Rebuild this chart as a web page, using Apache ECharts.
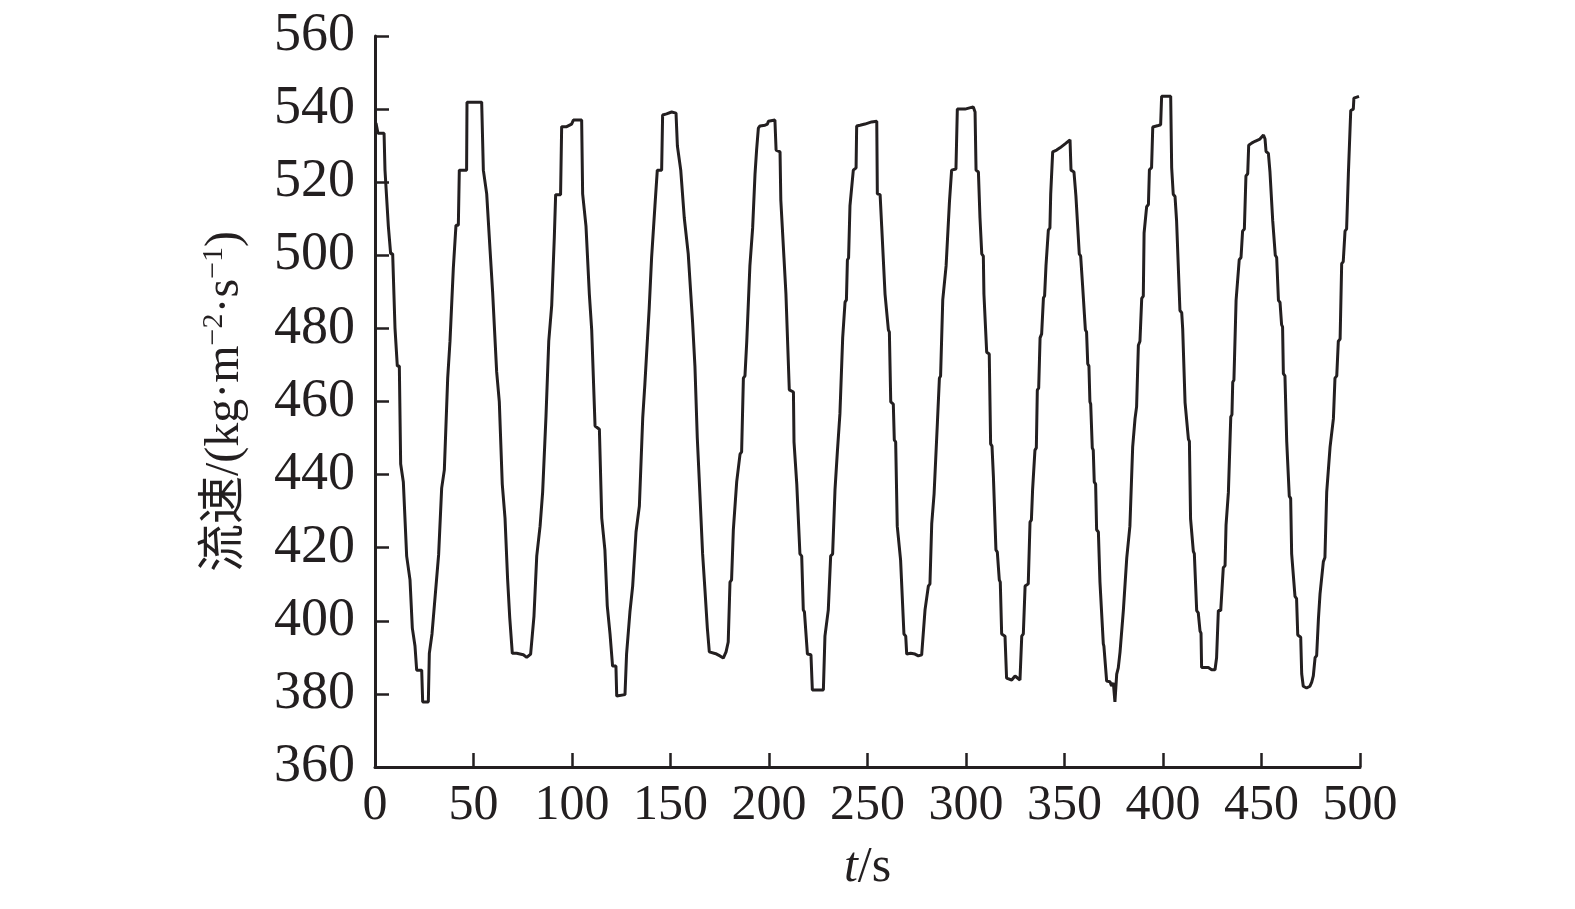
<!DOCTYPE html>
<html>
<head>
<meta charset="utf-8">
<script src="https://cdn.jsdelivr.net/npm/echarts@6/dist/echarts.min.js"></script>
<style>
html,body{margin:0;padding:0;background:#fff;}
#chart{width:1575px;height:909px;}
</style>
</head>
<body>
<div id="chart"></div>
<script>
// x-axis ticks and y-axis ticks
var xTicks = [0, 50, 100, 150, 200, 250, 300, 350, 400, 450, 500];
var yTicks = [360, 380, 400, 420, 440, 460, 480, 500, 520, 540, 560];

// t/s (vertices of the measured trace)
var timeS = [
0.5,1.5,4.6,5.07,5.9,6.77,7.6,7.95,8.97,10.15,11.0,11.33,12.35,13.03,14.04,14.38,15.23,16.07,16.92,17.77,18.27,18.95,19.63,20.3,20.8,21.15,23.7,24.2,27.07,27.58,28.4,28.93,29.6,30.96,31.8,32.3,33.0,33.84,34.7,35.2,35.9,36.9,37.7,38.07,38.9,39.76,40.6,41.1,42.3,42.8,46.5,46.7,54.15,55.0,55.8,56.7,57.2,58.4,59.05,59.7,60.4,61.76,62.4,63.1,63.6,64.6,65.5,66.0,66.5,67.3,67.85,68.4,68.7,69.7,71.9,75.3,77.0,79.0,80.0,80.7,81.7,82.1,83.1,83.8,84.6,85.1,85.8,86.8,87.7,88.2,88.8,89.7,90.5,91.03,91.5,91.7,94.2,94.75,97.3,
99.8,100.7,102.0,104.9,105.4,106.1,107.1,107.4,108.8,109.5,110.0,110.5,111.7,113.9,115.1,115.6,116.7,117.3,117.9,118.4,119.3,119.8,120.6,122.3,122.7,126.9,127.7,128.6,129.4,129.9,130.8,131.5,132.5,133.2,134.2,134.7,135.9,136.5,137.0,137.9,139.2,139.9,140.4,140.9,142.1,143.0,143.3,145.5,146.0,148.0,150.6,152.8,153.5,155.2,156.2,157.0,157.9,159.0,159.9,161.2,162.1,162.4,162.9,163.6,164.1,164.6,165.3,166.3,167.0,167.5,168.0,168.7,169.5,169.7,173.4,175.1,176.8,178.2,179.3,180.2,181.0,181.9,182.7,183.6,184.4,185.3,186.1,187.0,187.8,188.7,189.5,190.3,191.2,191.7,192.4,192.9,193.7,194.6,
195.4,198.0,199.2,199.7,203.0,203.6,205.6,206.0,207.0,207.6,208.1,208.6,209.3,210.3,212.4,212.7,213.2,214.1,214.9,215.7,216.6,217.4,218.0,219.5,221.3,222.0,227.6,228.4,229.3,230.1,230.6,231.3,232.3,233.5,234.0,234.7,235.4,236.0,236.7,237.4,238.1,238.6,239.3,239.8,240.4,241.1,241.8,242.8,244.2,244.5,246.2,248.7,252.1,254.7,255.0,256.4,257.2,258.0,258.9,259.7,260.6,261.1,261.8,263.1,263.6,264.3,265.1,266.0,266.8,267.3,268.5,269.4,269.9,271.9,274.1,275.8,277.5,278.3,279.2,280.0,280.9,281.7,282.6,283.4,283.8,284.4,285.5,286.1,286.5,287.1,288.2,288.8,289.9,290.5,291.6,
292.7,294.9,295.6,299.5,303.7,304.6,305.1,306.3,307.1,307.6,308.0,308.8,309.1,309.6,310.5,311.8,312.5,313.2,313.9,314.4,315.2,315.9,316.9,317.4,318.1,319.8,320.6,323.2,324.9,327.4,328.3,329.1,330.0,331.6,332.5,333.2,333.8,334.5,335.0,335.7,336.2,336.9,337.6,338.4,339.3,339.9,340.6,341.3,341.8,342.6,343.0,343.7,344.0,346.0,347.7,350.3,352.8,353.3,354.8,355.8,356.5,357.5,358.2,359.2,359.9,360.6,361.2,361.8,362.4,362.9,363.3,364.1,364.6,365.1,365.8,366.3,367.2,368.0,368.5,369.7,370.0,371.4,373.1,373.9,374.8,375.6,376.5,377.3,378.2,379.0,379.9,380.7,381.6,382.4,383.2,
384.6,385.3,385.8,386.6,387.5,388.3,389.2,390.0,390.4,390.9,391.7,392.6,393.1,394.2,394.8,397.6,398.8,399.3,403.9,404.4,405.2,406.1,406.9,407.8,408.6,409.5,410.0,410.7,411.2,412.0,412.9,413.4,414.0,414.7,415.4,415.9,417.1,417.9,418.8,419.3,419.6,423.0,424.7,426.4,427.2,428.1,429.3,430.6,431.5,432.0,432.7,433.2,433.7,434.4,435.0,435.4,436.0,437.1,437.7,438.7,439.6,440.4,441.3,442.1,443.0,443.5,445.0,446.7,449.2,451.0,451.8,452.3,453.5,454.3,454.7,455.7,456.4,457.0,457.7,458.6,459.4,460.2,460.7,461.1,461.9,462.8,463.6,464.1,464.8,465.3,466.2,467.0,467.8,468.4,469.9,470.4,471.2,472.9,474.6,475.5,476.3,477.2,478.0,478.9,479.7,480.5,481.4,482.2,483.1,483.9,484.8,485.6,486.5,486.8,487.3,488.2,489.0,489.9,490.7,491.5,492.4,493.2,494.1,494.9,495.3,496.6,496.9,499.5
];

// 流速/(kg·m^-2·s^-1)
var flowRate = [
536.2,533.4,533.4,523.3,523.3,508.0,508.0,500.4,500.4,480.1,480.1,469.7,469.7,442.9,442.9,438.0,438.0,417.7,417.7,411.2,411.2,398.0,398.0,393.1,393.1,386.5,386.5,377.8,377.8,391.1,391.1,396.4,396.4,409.5,409.5,418.1,418.1,436.3,436.3,441.3,441.3,466.4,466.4,476.5,476.5,496.5,496.5,508.2,508.2,523.3,523.3,541.9,541.9,523.3,523.3,516.8,516.8,501.5,501.5,490.0,490.0,468.1,468.1,459.9,459.9,437.4,437.4,428.1,428.1,411.5,411.5,400.8,400.8,391.1,391.1,390.7,390.0,390.9,390.9,401.3,401.6,417.7,417.7,425.9,425.9,435.2,435.2,456.0,456.0,476.5,476.5,486.3,486.3,505.0,505.0,516.6,516.6,535.2,535.2,
535.9,537.0,537.0,537.0,516.8,516.8,508.0,508.0,489.4,489.4,479.6,479.6,453.3,452.4,428.1,428.1,419.4,419.4,404.1,404.1,396.4,396.4,387.6,387.6,379.4,379.8,390.9,390.9,402.4,402.4,409.5,409.5,424.3,424.3,431.4,431.4,455.5,455.5,464.8,464.8,485.6,485.6,499.3,499.3,513.5,513.5,523.3,523.3,538.4,538.7,539.2,538.9,529.9,523.3,523.3,510.2,510.2,500.4,500.4,481.8,481.8,469.7,469.7,450.0,450.0,438.5,438.5,418.3,418.3,408.4,408.4,398.0,398.0,391.5,390.9,390.4,389.8,391.5,394.2,410.6,411.2,424.9,425.4,438.0,438.5,445.6,446.2,466.4,467.0,476.3,476.8,497.1,497.6,507.5,508.0,522.2,528.8,534.8,
535.4,535.6,535.9,536.7,537.0,528.8,528.3,515.1,514.6,499.3,499.3,489.4,488.9,463.2,462.6,448.9,448.4,437.4,437.4,418.3,417.7,403.0,402.4,390.9,390.7,381.1,381.1,395.8,395.8,403.0,403.2,417.7,418.3,435.8,436.3,446.2,446.7,456.6,457.1,477.4,477.9,487.2,487.8,498.7,499.3,513.5,514.0,523.3,523.9,535.4,535.6,535.9,536.5,536.7,516.8,516.6,508.0,507.5,489.4,489.4,479.6,479.0,459.9,459.3,449.5,448.9,425.9,425.4,416.6,416.1,396.4,395.8,390.9,391.1,390.9,390.4,390.7,390.9,403.0,403.5,409.5,410.1,426.5,427.0,434.7,435.2,454.4,454.9,466.4,467.0,487.8,488.3,497.1,497.6,514.6,
523.3,523.6,540.0,540.0,540.6,539.2,523.3,522.8,510.2,509.7,500.4,499.8,489.4,488.9,473.5,473.0,448.4,447.8,439.6,439.1,419.4,418.8,411.2,410.6,396.4,395.8,384.3,383.8,384.9,383.8,395.8,396.4,409.5,410.1,427.0,427.6,435.8,436.3,446.7,447.3,463.1,463.7,477.4,478.5,488.3,488.9,497.1,497.6,506.9,507.5,516.8,517.3,528.3,528.8,529.4,530.5,531.6,523.3,522.8,516.2,516.2,500.4,499.8,491.6,491.1,479.6,479.0,470.3,469.7,459.9,459.3,447.3,446.7,438.0,437.4,424.9,424.3,410.6,410.1,393.7,393.1,383.5,383.3,382.2,383.0,377.8,385.4,387.1,391.5,392.0,403.0,403.5,417.2,417.7,425.9,
447.5,448.0,455.3,458.6,475.4,476.5,488.2,488.8,506.1,506.6,513.3,513.9,523.4,524.0,535.1,535.5,535.7,543.5,543.5,524.0,516.7,516.1,509.4,509.4,484.9,484.3,479.8,479.6,459.7,459.2,449.7,449.1,427.9,427.4,419.0,418.4,402.8,402.2,397.2,396.6,387.2,387.2,386.6,386.6,389.9,402.8,402.8,414.5,415.1,426.2,426.2,435.2,435.7,455.8,456.4,465.3,465.9,487.7,488.2,498.8,499.4,506.6,507.2,521.7,522.3,530.1,530.7,531.2,531.8,532.9,531.8,528.4,527.9,522.8,522.8,509.4,509.4,500.0,499.4,487.7,487.1,481.0,480.4,467.6,467.0,449.1,448.6,434.1,433.5,418.4,417.9,406.7,406.1,396.1,395.5,385.5,382.1,381.6,382.1,383.2,384.9,389.9,390.5,400.6,407.3,407.8,416.2,417.3,435.2,435.7,447.5,448.0,455.3,455.8,466.4,467.0,476.5,477.1,497.7,498.3,506.6,507.2,522.3,522.8,539.6,540.0,543.0,543.5
];

var serif = '"Liberation Serif", "Times New Roman", serif';
var labelColor = '#231f20';

var chart = echarts.init(document.getElementById('chart'), null, {renderer: 'canvas'});
var seriesData = timeS.map(function (t, i) { return [t, flowRate[i]]; });

chart.setOption({
  backgroundColor: '#ffffff',
  animation: false,
  grid: {left: 375, right: 215, top: 36, bottom: 142, containLabel: false},
  xAxis: {
    type: 'value',
    min: xTicks[0],
    max: xTicks[xTicks.length - 1],
    interval: xTicks[1] - xTicks[0],
    name: '{it|t}/s',
    nameLocation: 'middle',
    nameGap: 76,
    nameTextStyle: {
      color: labelColor, fontFamily: serif, fontSize: 50,
      rich: {it: {fontStyle: 'italic', fontFamily: serif, fontSize: 50, color: labelColor}}
    },
    axisLine: {show: true, onZero: false, lineStyle: {color: labelColor, width: 3}},
    axisTick: {show: true, inside: true, length: 14, lineStyle: {color: labelColor, width: 2.5}},
    axisLabel: {color: labelColor, fontFamily: serif, fontSize: 50, margin: 14},
    splitLine: {show: false}
  },
  yAxis: {
    type: 'value',
    min: yTicks[0],
    max: yTicks[yTicks.length - 1],
    interval: yTicks[1] - yTicks[0],
    name: '流速/(kg·m{sup|−2}·s{sup|−1})',
    nameLocation: 'middle',
    nameGap: 124,
    nameRotate: 90,
    nameTextStyle: {
      color: labelColor, fontFamily: serif + ', "Noto Sans CJK SC"', fontSize: 48,
      rich: {sup: {fontSize: 30, verticalAlign: 'top', padding: [0, 0, 22, 0], fontFamily: serif, color: labelColor}}
    },
    axisLine: {show: true, onZero: false, lineStyle: {color: labelColor, width: 3}},
    axisTick: {show: true, inside: true, length: 14, lineStyle: {color: labelColor, width: 2.5}},
    axisLabel: {color: labelColor, fontFamily: serif, fontSize: 54, margin: 20},
    splitLine: {show: false}
  },
  series: [{
    type: 'line',
    data: seriesData,
    showSymbol: false,
    symbol: 'none',
    lineStyle: {color: '#231f20', width: 3},
    clip: true
  }]
});
</script>
</body>
</html>
